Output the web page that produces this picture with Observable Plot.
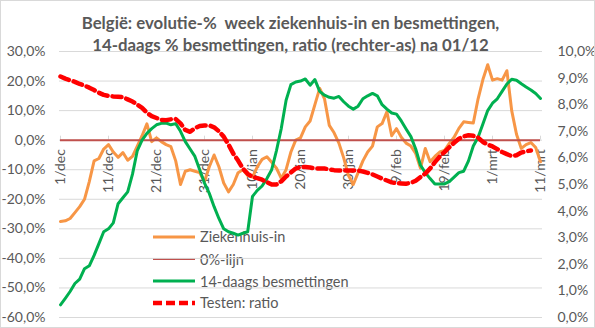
<!DOCTYPE html>
<html>
<head>
<meta charset="utf-8">
<script src="https://cdn.jsdelivr.net/npm/d3@7"></script>
<script src="https://cdn.jsdelivr.net/npm/@observablehq/plot@0.6"></script>
<style>
  html, body { margin: 0; padding: 0; background: #fff; }
  #wrap { position: relative; width: 595px; height: 328px; overflow: hidden; font-family: Lato, "Liberation Sans", sans-serif; }
  #title { position: absolute; left: 0; width: 581px; top: 11.9px; text-align: center; font-weight: 700; font-size: 16.8px; line-height: 22.6px; color: #595959; z-index: 2; white-space: nowrap; }
  #legend { position: absolute; left: 153px; top: 0; z-index: 0; font-size: 14.5px; color: #595959; }
  #legend .row { position: absolute; left: 0; height: 22px; display: flex; align-items: center; white-space: nowrap; }
  #legend svg { margin-right: 5px; }
  #chart { position: absolute; left: 0; top: 0; z-index: 1; }
  #border { position: absolute; left: 0; top: 0; width: 593px; height: 326px; border: 1px solid #d9d9d9; z-index: 3; pointer-events: none; }
</style>
</head>
<body>
<div id="wrap">
  <div id="legend"></div>
  <div id="chart"></div>
  <div id="title">België: evolutie-%&nbsp; week ziekenhuis-in en besmettingen,<br>14-daags % besmettingen, ratio (rechter-as) na 01/12</div>
  <div id="border"></div>
</div>
<script>
// ---- data ----
const startDate = "2020-12-01";
const tickLabels = ["1/dec","11/dec","21/dec","31/dec","10/jan","20/jan","30/jan","9/feb","19/feb","1/mrt","11/mrt"];
const leftTicks = [30, 20, 10, 0, -10, -20, -30, -40, -50, -60];
const rightTicks = [10, 9, 8, 7, 6, 5, 4, 3, 2, 1, 0];

// Ziekenhuis-in, week evolution in %, daily from 1/dec
const ziekenhuis = [
  -27.5, -27.3, -26.5, -24.5, -22.5, -20, -14, -7, -6.2, -3,
  -1.5, -4, -5.8, -4.2, -6.8, -5.5, -2, 1.5, 5.5, -0.5,
  0.8, -0.5, -1.5, -2.2, -7, -15, -10.5, -10, -10.5, -11,
  -14, -9, -5, -9, -14.5, -17.5, -15, -11, -10, -12,
  -12.5, -9, -6.5, -5.6, -7.5, -9.5, -12.9, -10, -4, 0,
  0.8, 4.5, 6.5, 12, 17.5, 14, 5, 2.5, -1, -6,
  -12, -15, -11, -7, -4, -2, 4.5, 5.6, 9.6, 1.5,
  3.9, 1, -1, -2, -4.5, -9.5, -2.8, -7.3, -5.5, -4,
  -3.5, -1.1, 1, 4, 6.2, 6, 5.8, 14, 20.5, 25.5,
  20.3, 20.8, 20.3, 23.5, 10, 2, -2.8, -1.5, -0.8, -2.5,
  -7.3
];

// 14-daags besmettingen, evolution in %
const besmettingen14 = [
  -55.7, -53.5, -51.2, -48.5, -47, -43.5, -42.5, -39, -35, -31,
  -30, -28, -21.5, -19.5, -17.5, -11.5, -3.5, 0, 2.3, 3.9,
  5.2, 5.7, 5.8, 5.2, 5.6, 3, -0.5, -3, -5.5, -10,
  -14.5, -18, -22.5, -26.5, -30, -31, -31.5, -32.1, -31.5, -31,
  -19, -17, -15.5, -13, -10, -3.5, 4, 13.5, 18.8, 19.7,
  20, 20.7, 18.6, 20.5, 16.5, 15.2, 14.5, 14.2, 14.8, 13,
  11.5, 10.5, 11.5, 14, 15, 15.8, 15, 12, 10.5, 9.2,
  8.8, 6.5, 3.8, 1.2, -3, -8.5, -11, -13, -14.8, -14.8,
  -14.8, -14, -12.5, -11, -10.5, -7, -2, 1, 5.5, 10,
  12.5, 14, 16.5, 19, 20.6, 20.3, 19.1, 18, 17, 15.8,
  14.1
];

// Testen: ratio (right axis, %)
const testenRatio = [
  9.06, 8.98, 8.92, 8.86, 8.78, 8.72, 8.64, 8.55, 8.45, 8.37,
  8.33, 8.31, 8.3, 8.28, 8.2, 8.12, 8.0, 7.88, 7.7, 7.57,
  7.5, 7.43, 7.42, 7.45, 7.46, 7.3, 7.05, 6.98, 7.12, 7.2,
  7.22, 7.22, 7.15, 7.0, 6.8, 6.5, 6.16, 5.9, 5.6, 5.4,
  5.28, 5.24, 5.18, 5.09, 5.0, 5.0, 5.12, 5.3, 5.45, 5.6,
  5.66, 5.66, 5.64, 5.6, 5.6, 5.6, 5.57, 5.54, 5.53, 5.53,
  5.53, 5.53, 5.52, 5.49, 5.44, 5.38, 5.3, 5.22, 5.15, 5.08,
  5.05, 5.04, 5.03, 5.06, 5.14, 5.28, 5.41, 5.6, 5.84, 6.05,
  6.22, 6.4, 6.57, 6.72, 6.81, 6.85, 6.83, 6.76, 6.6, 6.5,
  6.43, 6.33, 6.22, 6.14, 6.07, 6.1, 6.2, 6.25, 6.28
];

const colors = { zh: "#F79646", nul: "#C0504D", b14: "#00B050", ratio: "#FF0000" };

// ---- build ----
const start = new Date(startDate + "T00:00:00Z");
const dateAt = i => d3.utcDay.offset(start, i);
const nDays = ziekenhuis.length;
const lastDate = dateAt(nDays - 1);
const tickDates = tickLabels.map((_, i) => dateAt(i * 10));

// right axis (0..10%) is mapped onto the left scale (-60..30%)
const rToL = r => -60 + r * 9;
const lToR = v => (v + 60) / 9;
const fmt = v => (Math.round(v * 10) / 10).toFixed(1).replace(".", ",") + "%";

const zhData = ziekenhuis.map((v, i) => ({date: dateAt(i), value: v}));
const b14Data = besmettingen14.map((v, i) => ({date: dateAt(i), value: v}));
const ratioData = testenRatio.map((v, i) => ({date: dateAt(i), value: rToL(v)}));

const chart = Plot.plot({
  width: 595,
  height: 328,
  marginTop: 51,
  marginBottom: 11,
  marginLeft: 60,
  marginRight: 55,
  style: {background: "transparent", fontFamily: "Lato, 'Liberation Sans', sans-serif"},
  x: {type: "utc", domain: [start, lastDate], axis: null},
  y: {domain: [-60, 30], axis: null},
  marks: [
    Plot.gridY(leftTicks, {stroke: "#d9d9d9", strokeOpacity: 1, strokeWidth: 1, insetLeft: -1, insetRight: -2}),
    Plot.axisY(leftTicks, {anchor: "left", label: null, tickSize: 0, tickPadding: 15, tickFormat: fmt, fontSize: 14, color: "#595959"}),
    Plot.axisY(rightTicks.map(rToL), {anchor: "right", label: null, tickSize: 0, tickPadding: 17, tickFormat: v => fmt(lToR(v)), fontSize: 14, color: "#595959"}),
    Plot.ruleX(tickDates, {x: d => d, y1: 0, y2: 1.35, stroke: "#d9d9d9"}),
    Plot.text(tickDates, {x: d => d, y: 0, text: (d, i) => tickLabels[i], rotate: -90, textAnchor: "end", dy: 9, fontSize: 14, fill: "#595959"}),
    Plot.line(zhData, {x: "date", y: "value", stroke: colors.zh, strokeWidth: 3, curve: "linear"}),
    Plot.ruleY([0], {x1: start, x2: lastDate, stroke: colors.nul, strokeWidth: 2}),
    Plot.line(b14Data, {x: "date", y: "value", stroke: colors.b14, strokeWidth: 3}),
    Plot.line(ratioData, {x: "date", y: "value", stroke: colors.ratio, strokeWidth: 4.5, strokeDasharray: "9,5"})
  ]
});
document.getElementById("chart").appendChild(chart);

// legend (drawn beneath the plot lines, as in the reference)
const legendItems = [
  {label: "Ziekenhuis-in", color: colors.zh, dash: null, w: 3, cy: 236.7},
  {label: "0%-lijn", color: colors.nul, dash: null, w: 2, cy: 259.3},
  {label: "14-daags besmettingen", color: colors.b14, dash: null, w: 3, cy: 281.3},
  {label: "Testen: ratio", color: colors.ratio, dash: "9,4", w: 4.5, cy: 302.7}
];
const legend = document.getElementById("legend");
for (const it of legendItems) {
  const row = document.createElement("div");
  row.className = "row";
  row.style.top = (it.cy - 11) + "px";
  row.innerHTML = `<svg width="42" height="10"><line x1="0" x2="42" y1="5" y2="5" stroke="${it.color}" stroke-width="${it.w}" ${it.dash ? `stroke-dasharray="${it.dash}"` : ""}/></svg><span>${it.label}</span>`;
  legend.appendChild(row);
}
</script>
</body>
</html>
